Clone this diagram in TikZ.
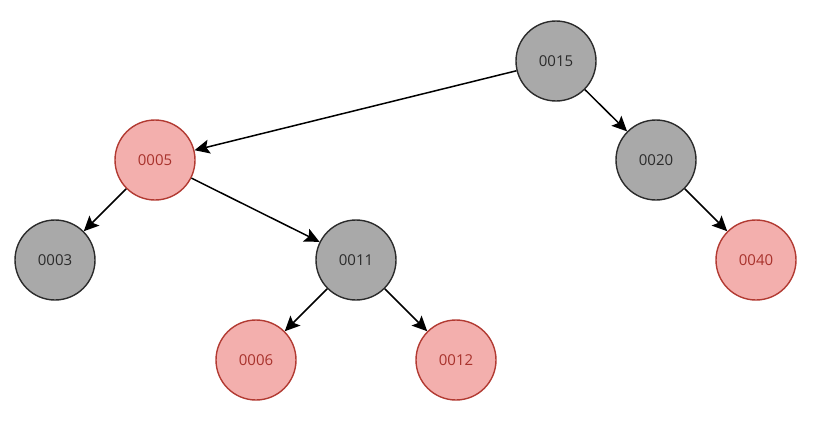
\documentclass[tikz,border=0pt]{standalone}
\usepackage{fontspec}
\setmainfont{Open Sans}
\usetikzlibrary{arrows.meta}
\definecolor{grayfill}{HTML}{A9A9A9}
\definecolor{graydraw}{HTML}{2B2B2B}
\definecolor{redfill}{HTML}{F3AFAD}
\definecolor{reddraw}{HTML}{B23A32}
\definecolor{redtext}{HTML}{A8322C}
\tikzset{
  blk/.style={circle, minimum size=80pt, inner sep=0pt, fill=grayfill, draw=graydraw, line width=1.4pt, text=graydraw, font=\fontsize{15}{15}\selectfont},
  rd/.style={circle, minimum size=80pt, inner sep=0pt, fill=redfill, draw=reddraw, line width=1.4pt, text=redtext, font=\fontsize{15}{15}\selectfont},
  edge/.style={draw=black, line width=1.5pt, -{Stealth[length=15pt,width=14pt,inset=3pt]}}
}
\begin{document}
\begin{tikzpicture}[x=1pt,y=-1pt]
\useasboundingbox (0,0) rectangle (816,439);
\node[blk] (n15) at (556,61) {0015};
\node[rd]  (n5)  at (155,160) {0005};
\node[blk] (n20) at (656,160) {0020};
\node[blk] (n3)  at (55,260) {0003};
\node[blk] (n11) at (356,260) {0011};
\node[rd]  (n40) at (756,260) {0040};
\node[rd]  (n6)  at (256,360) {0006};
\node[rd]  (n12) at (456,360) {0012};
\draw[edge] (n15) -- (n5);
\draw[edge] (n15) -- (n20);
\draw[edge] (n5) -- (n3);
\draw[edge] (n5) -- (n11);
\draw[edge] (n20) -- (n40);
\draw[edge] (n11) -- (n6);
\draw[edge] (n11) -- (n12);
\end{tikzpicture}
\end{document}
